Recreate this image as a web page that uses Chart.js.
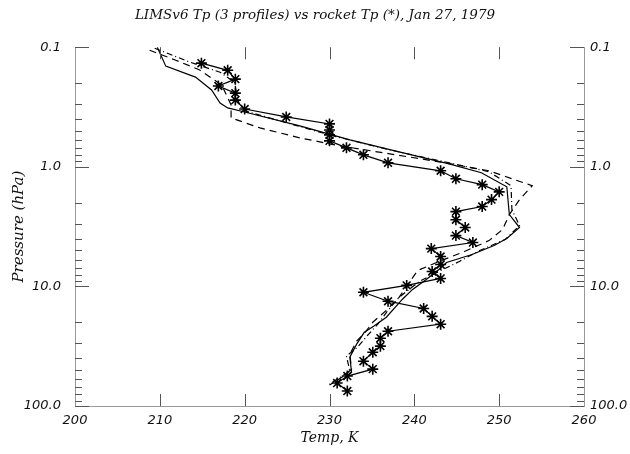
<!DOCTYPE html>
<html>
<head>
<meta charset="utf-8">
<title>LIMSv6 Tp vs rocket Tp</title>
<script src="https://cdn.jsdelivr.net/npm/chart.js@4.4.1/dist/chart.umd.min.js"></script>
<style>
    html, body { margin: 0; padding: 0; background: #fff; }
    canvas { display: block; }
</style>
</head>
<body>
<canvas id="tpChart" width="630" height="454"></canvas>
<script>
// Rocket sounding, temperature (K) at pressure (hPa)
const rocketTemp = [214.9, 218.0, 218.9, 216.9, 218.9, 218.9, 220.0, 224.9, 230.0, 230.0,
    230.0, 230.0, 232.0, 234.0, 236.9, 243.1, 244.9, 248.0, 250.0, 249.1,
    248.0, 244.9, 244.9, 246.0, 244.9, 246.9, 242.0, 243.1, 243.1, 242.1,
    243.1, 239.1, 234.0, 236.9, 241.1, 242.1, 243.1, 236.9, 236.0, 236.0,
    235.1, 234.0, 235.1, 232.1, 230.9, 232.1];
const rocketPres = [0.136, 0.156, 0.185, 0.211, 0.242, 0.277, 0.329, 0.383, 0.438, 0.492,
    0.541, 0.607, 0.694, 0.794, 0.926, 1.08, 1.26, 1.41, 1.62, 1.88,
    2.15, 2.37, 2.77, 3.22, 3.76, 4.30, 4.83, 5.62, 6.56, 7.50,
    8.58, 9.81, 11.2, 13.3, 15.3, 17.8, 20.7, 23.7, 27.1, 31.6,
    35.5, 42.2, 49.2, 56.2, 64.3, 75.0];

// LIMS profile 1 (solid)
const lims1Temp = [209.7, 210.7, 214.2, 216.1, 217.1, 218.0, 220.0, 226.5, 232.4, 238.2,
    244.1, 247.9, 250.9, 251.2, 252.4, 250.9, 249.4, 246.8, 243.8, 242.9,
    241.4, 239.8, 238.6, 236.7, 235.2, 234.1, 233.2, 232.4, 232.6, 231.9];
const lims1Pres = [0.100, 0.144, 0.178, 0.228, 0.293, 0.322, 0.348, 0.455, 0.596, 0.750,
    0.944, 1.12, 1.47, 2.51, 3.22, 3.98, 4.55, 5.41, 6.31, 7.22,
    8.74, 10.6, 12.8, 18.1, 21.5, 24.2, 30.4, 39.1, 52.1, 57.3];

// LIMS profile 2 (dashed)
const lims2Temp = [208.8, 211.8, 214.7, 217.3, 218.4, 218.4, 221.8, 226.5, 231.2, 237.1,
    242.9, 248.8, 253.9, 252.4, 251.2, 250.4, 248.8, 245.9, 242.9, 240.4,
    239.4, 238.2, 236.7, 235.1, 234.2, 233.2, 232.4, 232.6, 231.5, 230.0];
const lims2Pres = [0.106, 0.128, 0.155, 0.207, 0.304, 0.390, 0.473, 0.573, 0.668, 0.779,
    0.908, 1.08, 1.44, 1.88, 2.51, 3.35, 4.14, 5.11, 6.19, 7.36,
    9.26, 12.35, 15.85, 19.95, 24.2, 28.7, 36.9, 49.2, 57.3, 66.8];

// LIMS profile 3 (dash-dot)
const lims3Temp = [209.4, 213.5, 217.1, 218.8, 219.2, 219.7, 222.9, 230.0, 237.1, 244.1,
    248.8, 251.4, 251.5, 252.4, 250.7, 247.7, 245.3, 242.9, 240.6, 238.2,
    236.8, 235.7, 234.5, 233.3, 232.0, 232.4, 230.0];
const lims3Pres = [0.102, 0.133, 0.162, 0.196, 0.277, 0.335, 0.390, 0.541, 0.722, 0.926,
    1.10, 1.44, 2.28, 3.10, 4.06, 5.01, 6.19, 7.50, 9.08, 12.35,
    16.2, 20.7, 25.6, 32.2, 38.3, 51.1, 65.5];

const tempTicks = [200, 210, 220, 230, 240, 250, 260];
const presTicks = [0.1, 1, 10, 100];

const toPoints = (temps, pres) => temps.map((t, i) => ({ x: t, y: pres[i] }));

const tickFont = { family: 'DejaVu Sans', style: 'italic', size: 13 };
const labelFont = { family: 'DejaVu Serif', style: 'italic', size: 14 };

// Tick marks pointing into the plot, with log minor ticks on both pressure axes
const insideTicks = {
    id: 'insideTicks',
    afterDraw(chart) {
        const { ctx, chartArea: a, scales } = chart;
        const xs = scales.x, ys = scales.y;
        ctx.save();
        ctx.strokeStyle = '#555';
        ctx.lineWidth = 1;
        ctx.beginPath();
        tempTicks.slice(1, -1).forEach(t => {
            const px = Math.round(xs.getPixelForValue(t)) + 0.5;
            ctx.moveTo(px, a.bottom);
            ctx.lineTo(px, a.bottom - 12);
            ctx.moveTo(px, a.top);
            ctx.lineTo(px, a.top + 12);
        });
        presTicks.slice(0, -1).forEach(d => {
            for (let m = 1; m <= 10; m++) {
                const len = (m === 1 || m === 10) ? 14 : 7;
                const py = Math.round(ys.getPixelForValue(d * m)) + 0.5;
                ctx.moveTo(a.left, py);
                ctx.lineTo(a.left + len, py);
                ctx.moveTo(a.right, py);
                ctx.lineTo(a.right - len, py);
            }
        });
        ctx.stroke();
        ctx.restore();
    }
};

const presAxis = (position, width, padding) => ({
    type: 'logarithmic',
    position,
    reverse: true,
    min: 0.1,
    max: 100,
    afterBuildTicks: s => { s.ticks = presTicks.map(v => ({ value: v })); },
    afterFit: s => { s.width = width; },
    grid: { drawOnChartArea: false, drawTicks: false },
    border: { display: true, color: '#999' },
    ticks: {
        font: tickFont,
        color: '#111',
        padding,
        callback: v => Number(v).toFixed(1)
    }
});

new Chart(document.getElementById('tpChart'), {
    type: 'scatter',
    data: {
        datasets: [
            {
                data: toPoints(lims1Temp, lims1Pres),
                showLine: true,
                borderColor: '#000',
                borderWidth: 1.2,
                pointRadius: 0
            },
            {
                data: toPoints(lims2Temp, lims2Pres),
                showLine: true,
                borderColor: '#000',
                borderWidth: 1.2,
                borderDash: [7, 5],
                pointRadius: 0
            },
            {
                data: toPoints(lims3Temp, lims3Pres),
                showLine: true,
                borderColor: '#000',
                borderWidth: 1.2,
                borderDash: [6, 3, 1, 3],
                pointRadius: 0
            },
            {
                data: toPoints(rocketTemp, rocketPres),
                showLine: true,
                borderColor: '#000',
                borderWidth: 1.2,
                pointStyle: 'star',
                pointRadius: 5.5,
                pointBorderWidth: 1.6,
                pointBorderColor: '#000',
                pointBackgroundColor: '#000'
            }
        ]
    },
    options: {
        responsive: false,
        animation: false,
        layout: { padding: 0 },
        plugins: {
            legend: { display: false },
            tooltip: { enabled: false },
            title: {
                display: true,
                text: 'LIMSv6 Tp (3 profiles) vs rocket Tp (*), Jan 27, 1979',
                font: { family: 'DejaVu Serif', style: 'italic', size: 13.5, weight: 'normal' },
                color: '#111',
                padding: { top: 7, bottom: 24 }
            }
        },
        scales: {
            x: {
                type: 'linear',
                position: 'bottom',
                min: 200,
                max: 260,
                afterBuildTicks: s => { s.ticks = tempTicks.map(v => ({ value: v })); },
                afterFit: s => { s.height = 48; },
                grid: { drawOnChartArea: false, drawTicks: false },
                border: { display: true, color: '#999' },
                ticks: { font: tickFont, color: '#111', padding: 7, maxRotation: 0 },
                title: {
                    display: true,
                    text: 'Temp, K',
                    font: labelFont,
                    color: '#111',
                    padding: { top: 0, bottom: 7 }
                }
            },
            y: Object.assign(presAxis('left', 75, 14), {
                title: {
                    display: true,
                    text: 'Pressure (hPa)',
                    font: { family: 'DejaVu Serif', style: 'italic', size: 15 },
                    color: '#111',
                    padding: { top: 10, bottom: 0 }
                }
            }),
            y2: presAxis('right', 46, 6)
        }
    },
    plugins: [insideTicks]
});
</script>
</body>
</html>
